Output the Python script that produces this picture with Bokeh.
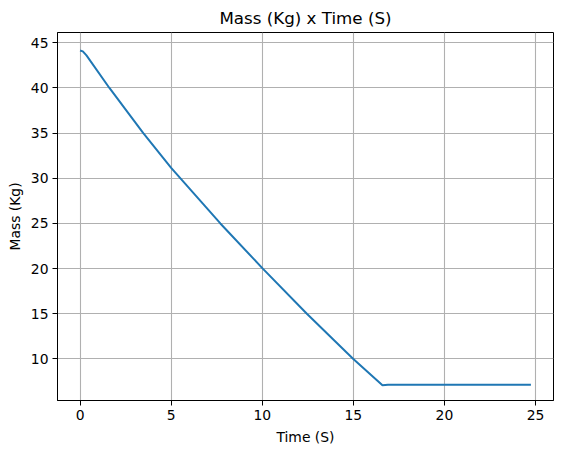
from bokeh.plotting import figure
from bokeh.models import FixedTicker, Range1d
from bokeh.embed import file_html
from bokeh.resources import INLINE

time_s = [0.0, 0.15, 0.35, 1.61, 3.47, 5.0, 7.70, 10.03, 12.45, 15.0, 16.6, 16.9, 24.75]
mass_kg = [44.15, 44.05, 43.6, 40.0, 35.0, 31.15, 25.0, 20.0, 15.0, 10.0, 7.1, 7.15, 7.15]
x_ticks = [0, 5, 10, 15, 20, 25]
y_ticks = [10, 15, 20, 25, 30, 35, 40, 45]

FONT = "DejaVu Sans"

p = figure(width=562, height=455, output_backend="svg", toolbar_location=None,
           title="Mass (Kg) x Time (S)",
           x_range=Range1d(-1.24, 25.99), y_range=Range1d(5.4, 46.14),
           min_border_left=57, min_border_right=9, min_border_top=31, min_border_bottom=55)

p.title.align = "center"
p.title.text_font = FONT
p.title.text_font_size = "16.7px"
p.title.text_font_style = "normal"
p.title.text_color = "black"

p.line(time_s, mass_kg, line_color="#1f77b4", line_width=2)

p.outline_line_color = "black"
p.outline_line_alpha = 1
p.outline_line_width = 1

for ax in (p.xaxis[0], p.yaxis[0]):
    ax.major_tick_out = 5
    ax.major_tick_in = 0
    ax.minor_tick_out = 0
    ax.minor_tick_in = 0
    ax.axis_line_color = "black"
    ax.major_tick_line_color = "black"
    ax.major_label_text_font = FONT
    ax.major_label_text_font_size = "13.9px"
    ax.major_label_text_color = "black"
    ax.axis_label_text_font = FONT
    ax.axis_label_text_font_size = "13.9px"
    ax.axis_label_text_font_style = "normal"
    ax.axis_label_text_color = "black"

p.xaxis.ticker = FixedTicker(ticks=x_ticks)
p.yaxis.ticker = FixedTicker(ticks=y_ticks)
p.xaxis.axis_label = "Time (S)"
p.yaxis.axis_label = "Mass (Kg)"
p.xaxis.major_label_standoff = 4
p.yaxis.major_label_standoff = 4
p.xaxis.axis_label_standoff = 6
p.yaxis.axis_label_standoff = 5

for g in (p.xgrid[0], p.ygrid[0]):
    g.grid_line_color = "#b0b0b0"
    g.grid_line_width = 1.1

p.background_fill_color = "white"
p.border_fill_color = "white"

open("out.html", "w").write(file_html(p, INLINE))
